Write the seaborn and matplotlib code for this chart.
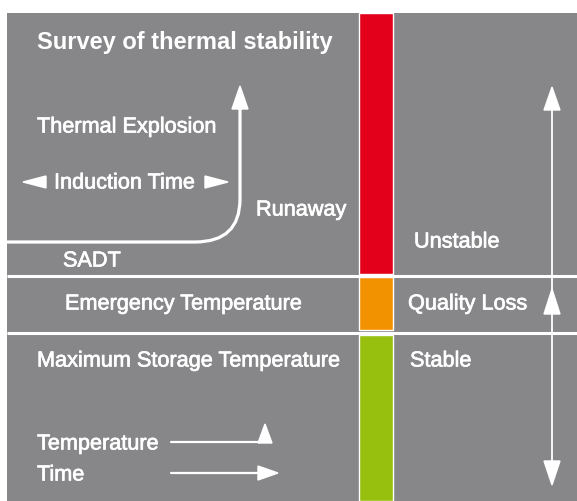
import numpy as np
import matplotlib
matplotlib.use("Agg")
import matplotlib.pyplot as plt
import matplotlib.patheffects as pe
import seaborn as sns
from matplotlib.path import Path
from matplotlib.patches import PathPatch, Polygon, Rectangle

# Zonen der thermischen Stabilität (Pixel-Skala, y nach unten)
zone_names = ["Unstable", "Quality Loss", "Stable"]
zone_top = [14, 278, 336]
zone_bottom = [275, 331, 502]
zone_colors = ["#e2001a", "#f39200", "#97bf0d"]
zone_label_x = [414, 408, 410]
zone_label_y = [243, 305, 362]

left_labels = ["SADT", "Emergency Temperature", "Maximum Storage Temperature"]
left_label_x = [63, 65, 37]
left_label_y = [262, 305, 362]

separator_y = [276.5, 333.5]

sns.set_theme(style="white")
plt.rcParams["font.family"] = ["Liberation Sans", "DejaVu Sans"]

GRAY = "#87878a"
fig = plt.figure(figsize=(5.77, 5.02), dpi=100, facecolor="white")
ax = fig.add_axes([0, 0, 1, 1])
ax.set_xlim(0, 577)
ax.set_ylim(502, 0)
ax.axis("off")

ax.add_patch(Rectangle((7, 14), 570, 488, facecolor=GRAY, edgecolor="none", zorder=0))

# farbiger Balken
heights = np.array(zone_bottom) - np.array(zone_top)
ax.bar([376] * 3, heights, bottom=zone_top, width=34, color=zone_colors, zorder=1)

# Trennlinien
for y in separator_y:
    ax.plot([7, 577], [y, y], color="white", lw=2.2, zorder=2, solid_capstyle="butt")

heavy = [pe.withStroke(linewidth=0.5, foreground="white")]
txt = dict(color="white", fontsize=15.6, va="center", ha="left", zorder=5,
           path_effects=heavy)
for name, x, y in zip(zone_names, zone_label_x, zone_label_y):
    ax.text(x, y, name, **txt)
for name, x, y in zip(left_labels, left_label_x, left_label_y):
    ax.text(x, y, name, **txt)

ax.text(37, 42, "Survey of thermal stability", color="white", fontsize=17,
        fontweight="bold", va="center", ha="left")
ax.text(54, 184, "Induction Time", **txt)
ax.text(37, 128, "Thermal Explosion", **txt)
ax.add_patch(Polygon([(23, 183), (46, 177), (46, 189)], color="white", zorder=3))
ax.add_patch(Polygon([(228, 183), (205, 177), (205, 189)], color="white", zorder=3))
ax.text(256, 211, "Runaway", **txt)
ax.text(37, 445, "Temperature", **txt)
ax.text(37, 476, "Time", **txt)

# Kurve: Induktionszeit -> Durchgehen
verts = [(7, 243), (195, 243), (240, 243), (240, 200), (240, 108)]
codes = [Path.MOVETO, Path.LINETO, Path.CURVE3, Path.CURVE3, Path.LINETO]
ax.add_patch(PathPatch(Path(verts, codes), facecolor="none", edgecolor="white",
                       lw=2.3, zorder=3))
ax.add_patch(Polygon([(240, 87), (232, 110), (248, 110)], color="white", zorder=3))

# rechter Doppelpfeil
ax.plot([552, 552], [105, 470], color="white", lw=1.3, zorder=3)
ax.add_patch(Polygon([(552, 88), (544, 111), (560, 111)], color="white", zorder=3))
ax.add_patch(Polygon([(552, 290), (544, 315), (560, 315)], color="white", zorder=3))
ax.add_patch(Polygon([(552, 486), (544, 462), (560, 462)], color="white", zorder=3))

# Legende Temperatur / Zeit
ax.plot([171, 262], [443, 443], color="white", lw=1.6, zorder=3)
ax.add_patch(Polygon([(265, 425), (258, 444), (272, 444)], color="white", zorder=3))
ax.plot([171, 262], [474, 474], color="white", lw=1.6, zorder=3)
ax.add_patch(Polygon([(278, 474), (258, 467), (258, 481)], color="white", zorder=3))

fig.savefig("out.png", dpi=100, facecolor="white")
